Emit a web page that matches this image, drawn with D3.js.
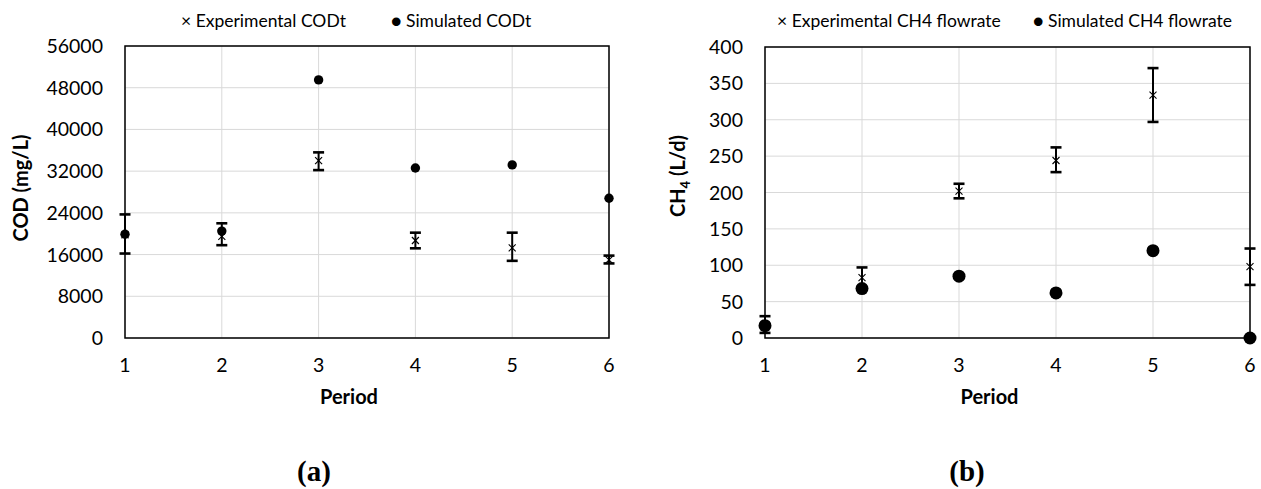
<!DOCTYPE html>
<html>
<head>
<meta charset="utf-8">
<script src="https://cdn.jsdelivr.net/npm/d3@7"></script>
<style>
  body { margin: 0; background: #fff; }
  text { font-family: Lato, "Open Sans", sans-serif; fill: #000; }
  .grid line { stroke: #d9d9d9; stroke-width: 1; }
  .axis-title { font-weight: bold; font-size: 20px; }
  .tick-label { font-size: 19.5px; }
  .legend { font-size: 17.5px; }
  .panel-label { font-family: "Liberation Serif", serif; font-weight: bold; font-size: 29px; }
</style>
</head>
<body>
<svg width="1261" height="489"></svg>
<script>
// Period on the x axis, shared by both panels
var periods = [1, 2, 3, 4, 5, 6];

// Panel (a): total COD, mg/L
var codExp = [19800, 19500, 34000, 18700, 17300, 15000];
var codExpLow = [16200, 17800, 32200, 17200, 14800, 14300];
var codExpHigh = [23700, 22000, 35600, 20200, 20200, 15800];
var codSim = [19900, 20500, 49500, 32600, 33200, 26800];
var codTicks = [0, 8000, 16000, 24000, 32000, 40000, 48000, 56000];

// Panel (b): CH4 flowrate, L/d
var ch4Exp = [18, 83, 202, 244, 334, 98];
var ch4ExpLow = [7, 70, 192, 228, 297, 73];
var ch4ExpHigh = [30, 97, 212, 262, 371, 123];
var ch4Sim = [17, 68, 85, 62, 120, 0];
var ch4Ticks = [0, 50, 100, 150, 200, 250, 300, 350, 400];

var svg = d3.select("svg");
var bottom = 338;

function drawPanel(opt) {
  var x = d3.scaleLinear().domain([1, 6]).range([opt.left, opt.right]);
  var y = d3.scaleLinear().domain([0, d3.max(opt.ticks)]).range([bottom, opt.top]);
  var g = svg.append("g");

  // gridlines
  var grid = g.append("g").attr("class", "grid");
  grid.selectAll(".v").data(periods).enter().append("line")
    .attr("x1", d => x(d)).attr("x2", d => x(d))
    .attr("y1", opt.top).attr("y2", bottom);
  grid.selectAll(".h").data(opt.ticks).enter().append("line")
    .attr("x1", opt.left).attr("x2", opt.right)
    .attr("y1", d => y(d)).attr("y2", d => y(d));

  // plot border
  g.append("rect")
    .attr("x", opt.left).attr("y", opt.top)
    .attr("width", opt.right - opt.left).attr("height", bottom - opt.top)
    .attr("fill", "none").attr("stroke", "#000").attr("stroke-width", 1.5);

  // tick labels
  g.selectAll(".yt").data(opt.ticks).enter().append("text")
    .attr("class", "tick-label")
    .attr("x", opt.left - 22).attr("y", d => y(d)).attr("dy", "0.36em")
    .attr("text-anchor", "end").text(d => d);
  g.selectAll(".xt").data(periods).enter().append("text")
    .attr("class", "tick-label")
    .attr("x", d => x(d)).attr("y", 365).attr("dy", "0.36em")
    .attr("text-anchor", "middle").text(d => d);

  // axis titles
  g.append("text").attr("class", "axis-title")
    .attr("x", (opt.left + opt.right) / 2 - 18).attr("y", 397).attr("dy", "0.36em")
    .attr("text-anchor", "middle").text("Period");
  var yt = g.append("text").attr("class", "axis-title")
    .attr("transform", "translate(" + opt.ylabX + "," + opt.ylabY + ") rotate(-90)")
    .attr("dy", "0.36em")
    .attr("text-anchor", "middle");
  opt.ylabel(yt);

  // error bars
  var eb = g.append("g").attr("stroke", "#000").attr("stroke-width", 2);
  periods.forEach(function(p, i) {
    var cx = x(p);
    eb.append("line").attr("x1", cx).attr("x2", cx)
      .attr("y1", y(opt.lo[i])).attr("y2", y(opt.hi[i]));
    [opt.lo[i], opt.hi[i]].forEach(function(v) {
      eb.append("line").attr("x1", cx - 5.5).attr("x2", cx + 5.5)
        .attr("y1", y(v)).attr("y2", y(v)).attr("stroke-width", 2.6);
    });
  });

  // experimental: x markers
  var xs = 3.5;
  var mk = g.append("g").attr("stroke", "#000").attr("stroke-width", 1.1);
  periods.forEach(function(p, i) {
    var cx = x(p), cy = y(opt.exp[i]);
    mk.append("line").attr("x1", cx - xs).attr("y1", cy - xs).attr("x2", cx + xs).attr("y2", cy + xs);
    mk.append("line").attr("x1", cx - xs).attr("y1", cy + xs).attr("x2", cx + xs).attr("y2", cy - xs);
  });

  // simulated: dots
  g.selectAll(".sim").data(opt.sim).enter().append("circle")
    .attr("cx", (d, i) => x(periods[i])).attr("cy", d => y(d))
    .attr("r", opt.dotR).attr("fill", "#000");

  // legend
  var lg = g.append("text").attr("class", "legend").attr("y", 21).attr("dy", "0.36em");
  lg.append("tspan").attr("x", opt.legX1).text("\u00d7 " + opt.leg1);
  lg.append("tspan").attr("x", opt.legX2).text("\u25cf " + opt.leg2);
}

drawPanel({
  left: 125, right: 609, top: 46, ticks: codTicks,
  exp: codExp, lo: codExpLow, hi: codExpHigh, sim: codSim, dotR: 4.7,
  ylabX: 21, ylabY: 188,
  ylabel: function(t) { t.text("COD (mg/L)"); },
  legX1: 181, legX2: 391,
  leg1: "Experimental CODt", leg2: "Simulated CODt"
});

drawPanel({
  left: 765, right: 1250, top: 47, ticks: ch4Ticks,
  exp: ch4Exp, lo: ch4ExpLow, hi: ch4ExpHigh, sim: ch4Sim, dotR: 6.5,
  ylabX: 678, ylabY: 176,
  ylabel: function(t) {
    t.append("tspan").text("CH");
    t.append("tspan").attr("font-size", "13px").attr("dy", 5).text("4");
    t.append("tspan").attr("dy", -5).text(" (L/d)");
  },
  legX1: 777, legX2: 1033,
  leg1: "Experimental CH4 flowrate", leg2: "Simulated CH4 flowrate"
});

svg.append("text").attr("class", "panel-label")
  .attr("x", 314).attr("y", 481).attr("text-anchor", "middle").text("(a)");
svg.append("text").attr("class", "panel-label")
  .attr("x", 967).attr("y", 481).attr("text-anchor", "middle").text("(b)");
</script>
</body>
</html>
